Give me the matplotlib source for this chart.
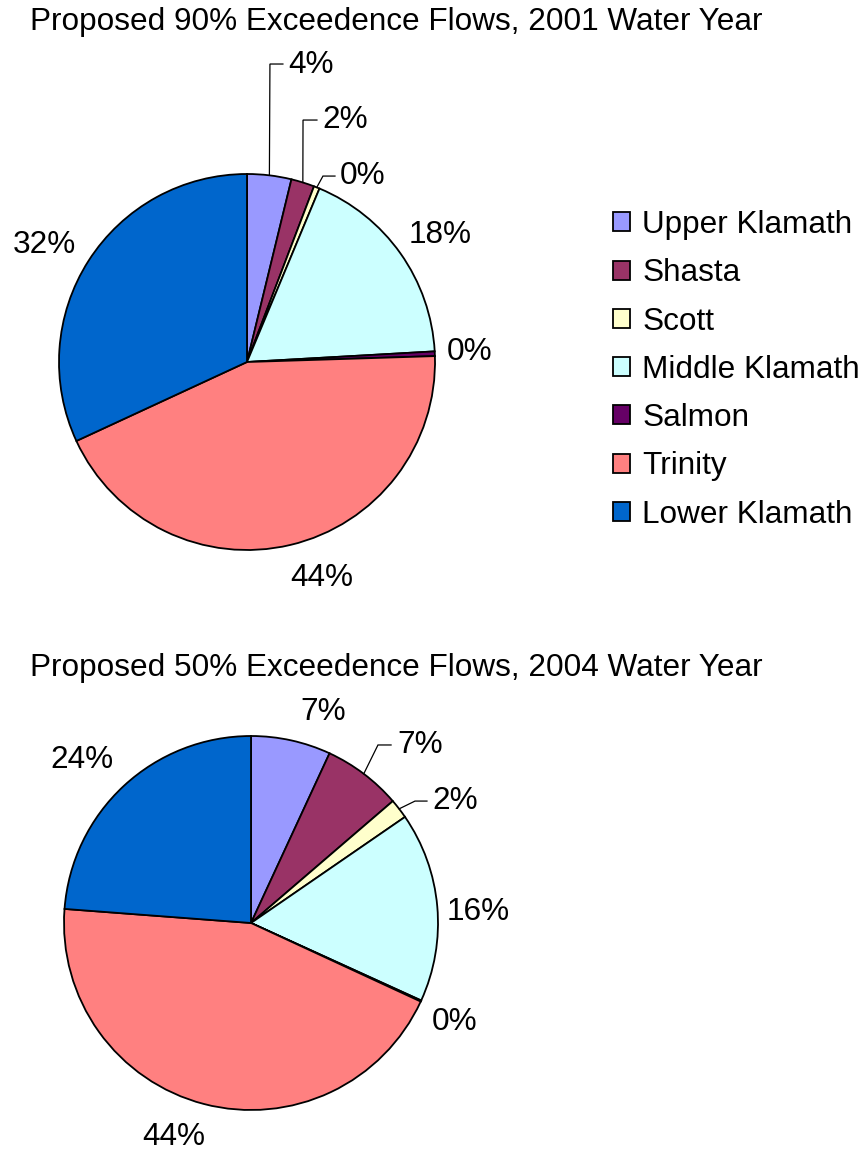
import matplotlib
matplotlib.use("Agg")
import matplotlib.pyplot as plt
import numpy as np

plt.rcParams['font.family'] = ['Liberation Sans', 'DejaVu Sans']

categories = ["Upper Klamath", "Shasta", "Scott", "Middle Klamath", "Salmon", "Trinity", "Lower Klamath"]
colors = ["#9999FF", "#993366", "#FFFFCC", "#CCFFFF", "#660066", "#FF8080", "#0066CC"]

title_2001 = "Proposed 90% Exceedence Flows, 2001 Water Year"
values_2001 = [3.8, 2.0, 0.5, 17.8, 0.4, 43.6, 31.9]
labels_2001 = ["4%", "2%", "0%", "18%", "0%", "44%", "32%"]

title_2004 = "Proposed 50% Exceedence Flows, 2004 Water Year"
values_2004 = [6.9, 6.8, 1.7, 16.4, 0.1, 44.3, 23.8]
labels_2004 = ["7%", "7%", "2%", "16%", "0%", "44%", "24%"]

W, H = 863, 1151
fig = plt.figure(figsize=(W / 100, H / 100), dpi=100)

FS = 22.7

# label layout (in radius units): (x, y, ha) for text; leader elbow (ex, ey, hx) or None
layout_2001 = [
    ((0.218, 1.58, 'left'), (0.122, 1.585, 0.191)),
    ((0.399, 1.287, 'left'), (0.298, 1.287, 0.372)),
    ((0.495, 0.989, 'left'), (0.404, 0.989, 0.468)),
    ((1.027, 0.676, 'center'), None),
    ((1.186, 0.053, 'center'), None),
    ((0.399, -1.149, 'center'), None),
    ((-1.08, 0.622, 'center'), None),
]
layout_2004 = [
    ((0.385, 1.128, 'center'), None),
    ((0.781, 0.952, 'left'), (0.679, 0.952, 0.749)),
    ((0.968, 0.652, 'left'), (0.877, 0.652, 0.941)),
    ((1.214, 0.059, 'center'), None),
    ((1.091, -0.529, 'center'), None),
    ((-0.412, -1.144, 'center'), None),
    ((-0.904, 0.872, 'center'), None),
]


def draw_pie(cx, cy, r, values, labels, layout):
    ax = fig.add_axes([(cx - r) / W, (H - cy - r) / H, 2 * r / W, 2 * r / H])
    wedges, _ = ax.pie(values, colors=colors, startangle=90, counterclock=False,
                       wedgeprops=dict(edgecolor='black', linewidth=1.3),
                       normalize=True)
    ax.set_xlim(-1, 1)
    ax.set_ylim(-1, 1)
    ax.set_aspect('auto')
    ax.axis('off')
    for w, lab, (txt, lead) in zip(wedges, labels, layout):
        tx, ty, ha = txt
        if lead is not None:
            mid = np.deg2rad((w.theta1 + w.theta2) / 2)
            px, py = np.cos(mid), np.sin(mid)
            ex, ey, hx = lead
            ax.plot([px, ex, hx], [py, ey, ey], color='black', lw=0.9,
                    clip_on=False, solid_joinstyle='miter')
        ax.text(tx, ty, lab, ha=ha, va='center', fontsize=FS, clip_on=False)
    return wedges


wedges_top = draw_pie(247, 362, 188, values_2001, labels_2001, layout_2001)
draw_pie(251, 923, 187, values_2004, labels_2004, layout_2004)

fig.text(30 / W, 1 - 22 / H, title_2001, fontsize=FS, ha='left', va='center')
fig.text(30 / W, 1 - 668 / H, title_2004, fontsize=FS, ha='left', va='center')

leg = fig.legend(wedges_top, categories, loc='upper left',
                 bbox_to_anchor=(613 / W, 1 - 210 / H), frameon=False,
                 fontsize=FS, handlelength=0.55, handleheight=0.55,
                 handletextpad=0.38, labelspacing=0.58, borderpad=0, borderaxespad=0)

fig.savefig("out.png", dpi=100)
